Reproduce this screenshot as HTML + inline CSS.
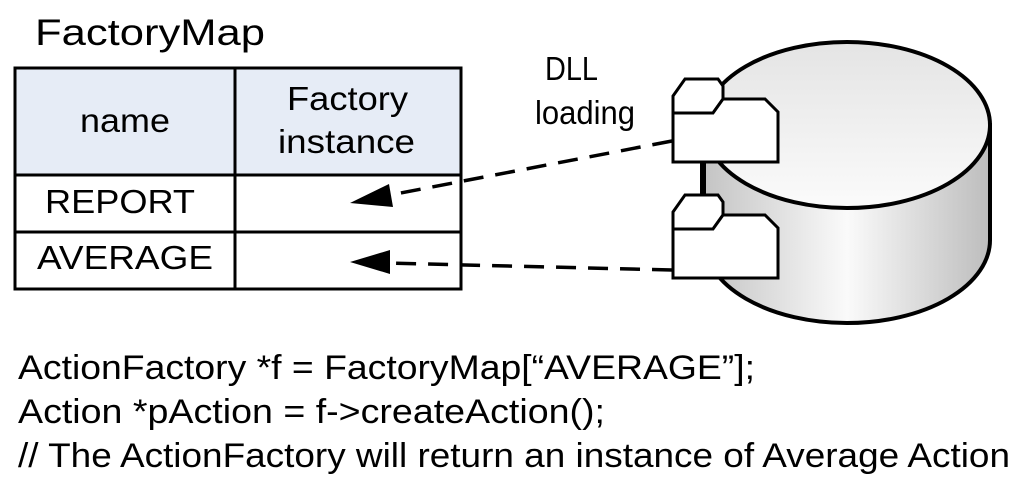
<!DOCTYPE html>
<html><head><meta charset="utf-8"><style>html,body{margin:0;padding:0;background:#fff}svg{display:block}</style></head>
<body>
<svg width="1024" height="490" viewBox="0 0 1024 490" xmlns="http://www.w3.org/2000/svg" font-family="Liberation Sans, sans-serif">
<defs>
<linearGradient id="side" x1="0" x2="1" y1="0" y2="0">
<stop offset="0" stop-color="#c4c4c4"/><stop offset="0.5" stop-color="#fafafa"/><stop offset="1" stop-color="#bdbdbd"/>
</linearGradient>
<linearGradient id="top" x1="0" x2="0" y1="0" y2="1">
<stop offset="0" stop-color="#e4e4e4"/><stop offset="1" stop-color="#fbfbfb"/>
</linearGradient>
</defs>
<text x="35" y="45" font-size="37" textLength="230" lengthAdjust="spacingAndGlyphs">FactoryMap</text>
<rect x="15" y="68" width="446" height="107" fill="#e6ecf6"/>
<g stroke="#000" stroke-width="3" fill="none">
<rect x="15" y="68" width="446" height="221"/>
<line x1="235" y1="68" x2="235" y2="289"/>
<line x1="15" y1="175" x2="461" y2="175"/>
<line x1="15" y1="232" x2="461" y2="232"/>
</g>
<g font-size="33" lengthAdjust="spacingAndGlyphs">
<text x="80" y="132" textLength="90" lengthAdjust="spacingAndGlyphs">name</text>
<text x="287" y="110" textLength="121" lengthAdjust="spacingAndGlyphs">Factory</text>
<text x="278" y="153" textLength="137" lengthAdjust="spacingAndGlyphs">instance</text>
<text x="45" y="213" textLength="150" lengthAdjust="spacingAndGlyphs">REPORT</text>
<text x="37" y="269" textLength="176" lengthAdjust="spacingAndGlyphs">AVERAGE</text>
<text x="545" y="80" textLength="53" lengthAdjust="spacingAndGlyphs">DLL</text>
<text x="535" y="124" textLength="100" lengthAdjust="spacingAndGlyphs">loading</text>
</g>
<!-- cylinder -->
<path d="M704 125 L704 240 A143 83 0 0 0 990 240 L990 125 Z" fill="url(#side)" stroke="#000" stroke-width="4"/>
<ellipse cx="847" cy="125" rx="143" ry="83" fill="url(#top)" stroke="#000" stroke-width="4"/>
<line x1="702" y1="160" x2="702" y2="197" stroke="#000" stroke-width="4"/>
<g stroke="#000" stroke-width="3" fill="#fff" stroke-linejoin="miter">
<path d="M673 113 L673 96 L685 79 L718 79 L723 86 L723 99 L713 113 Z"/>
<path d="M673 162 L673 113 L713 113 L723 99 L765 99 L778 112 L778 162 Z"/>
<path d="M673 229 L673 212 L685 195 L718 195 L723 202 L723 215 L713 229 Z"/>
<path d="M673 278 L673 229 L713 229 L723 215 L765 215 L778 228 L778 278 Z"/>
</g>
<g stroke="#000" stroke-width="3.5" stroke-dasharray="20,12" fill="none">
<line x1="672" y1="141" x2="385" y2="196"/>
<line x1="672" y1="270" x2="385" y2="263"/>
</g>
<polygon points="350,203 389,184 393,207" fill="#000"/>
<polygon points="350,262 390,250 390,274" fill="#000"/>
<g font-size="34">
<text x="18" y="379" textLength="737" lengthAdjust="spacingAndGlyphs">ActionFactory *f = FactoryMap[“AVERAGE”];</text>
<text x="18" y="423" textLength="587" lengthAdjust="spacingAndGlyphs">Action *pAction = f-&gt;createAction();</text>
<text x="18" y="467" textLength="992" lengthAdjust="spacingAndGlyphs">// The ActionFactory will return an instance of Average Action</text>
</g>
</svg>
</body></html>
